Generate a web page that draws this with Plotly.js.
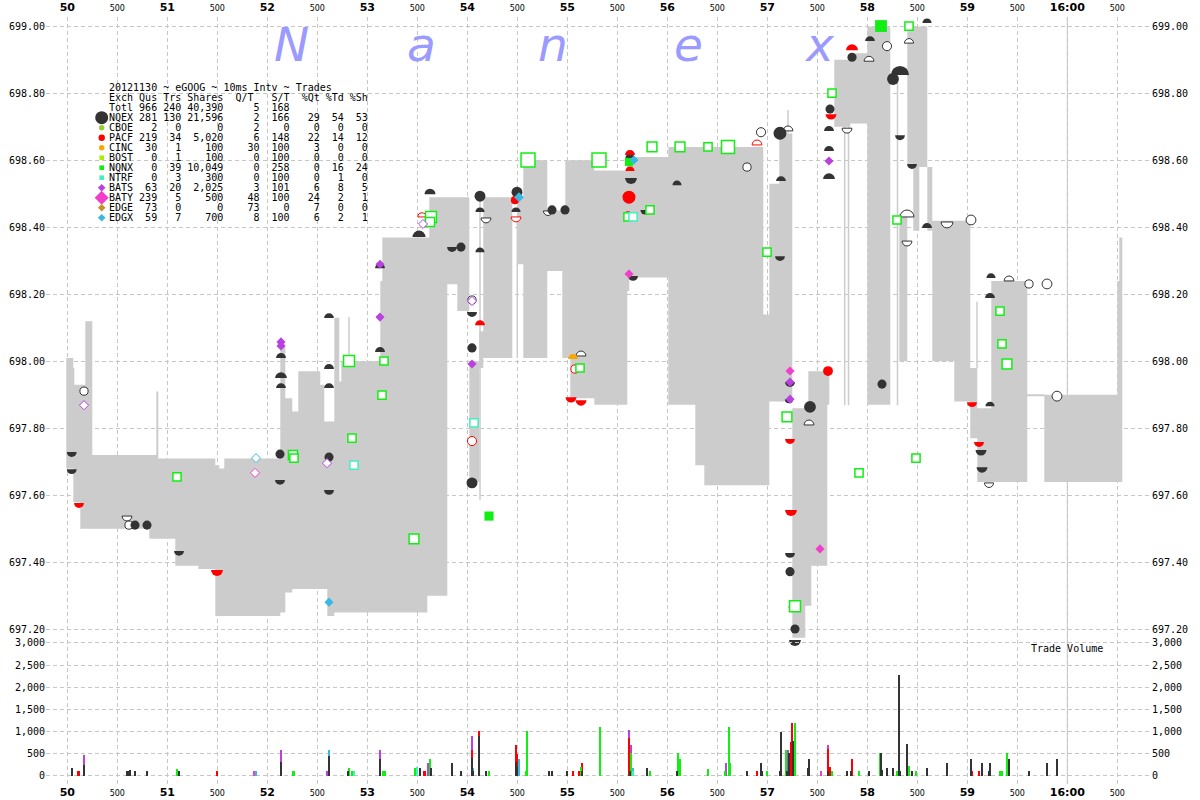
<!DOCTYPE html>
<html><head><meta charset="utf-8">
<script src="https://cdn.plot.ly/plotly-3.0.1.min.js"></script>
<style>html,body{margin:0;padding:0;background:#fff}#chart{width:1200px;height:800px}</style>
</head><body><div id="chart"></div><script>
// ---------------- DATA ----------------
// time in seconds after 15:59:00, prices in $
const timeTicks = [50,50.5,51,51.5,52,52.5,53,53.5,54,54.5,55,55.5,56,56.5,57,57.5,58,58.5,59,59.5,60,60.5];
const timeTickLabels = ['50','500','51','500','52','500','53','500','54','500','55','500','56','500','57','500','58','500','59','500','16:00','500'];
const closeTime = 60;
const priceTicks = [697.2,697.4,697.6,697.8,698.0,698.2,698.4,698.6,698.8,699.0];
const volTicks = [0,500,1000,1500,2000,2500,3000];

// NBBO band (step function)
const bandTime = [49.99,50.06,50.07,50.13,50.18,50.25,50.82,50.89,50.91,51.08,51.31,51.48,51.52,51.57,52.13,52.18,52.25,52.31,52.53,52.57,52.60,52.67,52.72,52.74,53.13,53.15,53.60,53.62,53.80,53.90,54.02,54.12,54.16,54.45,54.50,54.56,54.80,54.95,54.98,55.03,55.27,55.60,55.62,56.01,56.28,56.37,56.96,57.02,57.12,57.25,57.38,57.41,57.44,57.60,57.62,57.67,57.83,58.00,58.23,58.32,58.40,58.46,58.52,58.60,58.65,58.87,59.03,59.10,59.24,59.60,59.77,60.50,60.52,60.55];
const bandAsk = [698.01,697.98,697.93,697.93,698.12,697.72,697.72,697.91,697.71,697.71,697.71,697.69,697.68,697.71,698.05,697.89,697.85,697.97,697.93,697.82,697.82,698.13,697.94,698.00,698.24,698.37,698.37,698.49,698.49,698.49,698.00,698.09,698.49,698.40,698.49,698.60,698.45,698.45,698.60,698.60,698.57,698.63,698.61,698.64,698.64,698.64,698.14,698.53,698.68,697.86,697.86,697.97,697.97,697.97,698.50,698.90,698.92,699.00,698.60,698.44,699.00,699.00,699.00,698.58,698.42,698.42,697.98,697.86,698.24,697.902,697.90,698.24,698.37,698.37];
const bandBid = [697.68,697.58,697.58,697.50,697.50,697.50,697.47,697.47,697.47,697.39,697.38,697.24,697.24,697.24,697.25,697.31,697.32,697.32,697.32,697.32,697.24,697.25,697.25,697.25,697.25,697.25,697.30,697.30,698.23,698.15,697.64,697.98,698.01,698.40,698.29,698.01,698.27,698.01,698.01,697.89,697.87,698.21,698.25,697.87,697.69,697.63,697.63,697.88,697.88,697.175,697.27,697.27,697.39,697.87,698.50,698.70,698.71,697.87,698.60,698.00,698.59,698.39,698.58,698.39,698.00,697.88,697.77,697.64,697.64,697.896,697.64,697.64,697.64,697.64];

// thin trade-through lines (time, high, low)
const sweepT  = [52.817,54.127,54.500,55.607,57.207,57.774,57.812,58.302,59.097];
const sweepHi = [698.132,698.493,698.428,698.431,698.750,698.702,698.711,698.849,698.178];
const sweepLo = [697.899,697.586,698.010,698.213,698.681,697.869,697.869,697.869,697.980];

// NQEX quotes / trades (time, price, shares)
const nqexDomeT = [52.137,52.137,52.137,52.617,52.617,52.617,53.127,53.127,53.627,53.517,54.127,54.127,54.487,56.097,57.137,57.617,57.617,57.617,58.027,58.327,58.597,58.597,59.237,59.227,59.227];
const nqexDomeP = [698.010,697.950,697.920,698.129,697.977,697.920,698.278,698.028,698.499,698.371,698.446,698.326,698.446,698.526,698.538,698.688,698.628,698.544,698.956,698.855,699.010,698.398,698.249,698.189,697.866];
const nqexDomeS = [300,700,300,300,300,300,300,300,500,1000,200,200,200,200,300,300,300,700,300,3000,200,300,200,300,200];
const nqexBowlT = [50.044,50.044,51.117,52.127,52.617,53.847,54.047,55.657,55.637,55.777,57.127,57.227,57.217,57.227,57.277,58.327,58.447,59.137,59.147];
const nqexBowlP = [697.729,697.678,697.434,697.646,697.616,698.341,698.147,698.255,698.547,698.452,698.314,697.938,697.887,697.428,697.168,698.675,698.589,697.735,697.684];
const nqexBowlS = [300,300,300,300,300,300,300,300,700,200,300,300,100,300,700,300,300,500,500];
const openDomeT = [55.137,57.207,57.417,58.017,58.417,58.397,59.417];
const openDomeP = [698.016,698.688,697.810,698.896,698.950,698.431,698.240];
const openDomeS = [300,300,300,300,200,1300,300];
const openBowlT = [50.597,54.187,54.807,57.797,58.397,58.797,59.217];
const openBowlP = [697.538,698.428,698.449,698.696,698.359,698.416,697.637];
const openBowlS = [300,300,200,300,300,700,200];
const openCircT = [50.167,50.617,54.047,56.797,56.937,58.197,59.037,59.617,59.797,59.897];
const openCircP = [697.911,697.511,698.183,698.580,698.684,698.941,698.422,698.231,698.231,697.896];
const openCircS = [100,100,100,100,200,200,300,100,300,300];
const nqexTradeT = [50.677,50.797,52.127,52.617,53.937,54.127,54.047,54.047,54.497,54.847,54.977,55.627,57.127,57.427,57.227,57.277,57.627,57.847,58.147,58.257];
const nqexTradeP = [697.511,697.511,697.723,697.714,698.341,698.493,698.040,697.637,698.505,698.452,698.452,698.607,698.681,697.864,697.372,697.201,698.753,698.908,697.932,698.843];
const nqexTradeS = [200,200,200,200,200,500,200,500,500,200,200,200,1000,700,200,200,200,200,200,700];

// PACF
const pacfBowlT = [50.117,51.497,55.037,55.137,57.637,57.227,57.237,59.047,59.117];
const pacfBowlP = [697.577,697.377,697.893,697.884,698.738,697.768,697.556,697.878,697.759];
const pacfBowlS = [300,700,500,500,500,300,700,300,300];
const pacfDomeT = [54.127,55.607,55.627,55.627,57.847,57.257];
const pacfDomeP = [698.108,698.437,698.616,698.568,698.929,697.264];
const pacfDomeS = [300,50,300,200,700,200];
const pacfTradeT = [54.477,55.617,57.607];
const pacfTradeP = [698.481,698.490,697.971];
const pacfTradeS = [100,1000,300];
const pacfOpenDomeT = [53.547,56.897], pacfOpenDomeP = [698.431,698.646], pacfOpenDomeS = [100,300];
const pacfOpenBowlT = [54.487], pacfOpenBowlP = [698.431], pacfOpenBowlS = [300];
const pacfOpenCircT = [54.047,55.077], pacfOpenCircP = [697.762,697.977], pacfOpenCircS = [200,100];
// CINC
const cincDomeT = [55.057], cincDomeP = [698.007], cincDomeS = [300];
// NQNX
const nqnxOpenT = [51.097,52.257,52.267,52.817,52.847,53.167,53.147,53.467,53.637,53.627,54.607,55.127,55.317,55.607,55.827,55.847,56.127,56.407,56.607,56.997,57.197,57.277,57.647,57.917,58.297,58.417,58.487,59.327,59.347,59.397];
const nqnxOpenP = [697.655,697.720,697.711,698.001,697.771,698.001,697.899,697.470,698.431,698.416,698.601,697.980,698.601,698.431,698.452,698.640,698.640,698.640,698.640,698.326,697.834,697.269,698.801,697.667,698.422,699.001,697.711,698.150,698.052,697.992];
const nqnxOpenS = [100,200,100,500,100,100,100,300,500,200,1300,100,1300,100,100,300,300,100,1000,100,300,500,100,100,100,100,100,100,100,300];
const nqnxFillT = [54.217,58.137,55.617], nqnxFillP = [697.538,699.001,698.595], nqnxFillS = [200,700,100];
// NTRF
const ntrfT = [52.867,54.067,55.657], ntrfP = [697.690,697.816,698.431], ntrfS = [100,100,100];
// BATS / BATY / EDGX
const batsT = [52.137,52.137,53.127,53.127,54.047,57.617,57.227,57.227];
const batsP = [698.058,698.046,698.290,698.132,697.992,698.598,697.938,697.887];
const batsS = [200,200,200,200,200,200,200,200];
const batsOpenT = [50.167,52.597,53.557,54.047], batsOpenP = [697.869,697.696,698.410,698.180], batsOpenS = [200,200,200,200];
const batyT = [55.617,57.227,57.527], batyP = [698.261,697.971,697.440], batyS = [200,200,200];
const batyOpenT = [51.877], batyOpenP = [697.667], batyOpenS = [200];
const edgxT = [52.617,54.517,55.667], edgxP = [697.281,698.490,698.601], edgxS = [200,300,200];
const edgxOpenT = [51.887], edgxOpenP = [697.711], edgxOpenS = [200];

// Trade volume bars
const nqexVolT = [50.05,50.165,50.60,50.62,50.63,50.675,50.80,51.12,52.14,52.62,52.81,53.13,53.53,53.64,53.85,53.94,54.05,54.06,54.12,54.19,54.49,54.50,54.82,54.85,55.00,55.15,55.63,55.80,56.10,56.80,56.94,56.95,57.13,57.14,57.20,57.22,57.26,57.41,57.42,57.61,57.80,57.84,58.02,58.14,58.15,58.20,58.26,58.32,58.33,58.40,58.45,58.60,58.80,59.04,59.15,59.22,59.23,59.42,59.62,59.80,59.90];
const nqexVol = [180,230,100,100,120,100,100,100,300,450,100,380,180,180,290,100,400,100,900,100,300,200,100,100,100,100,100,180,100,100,280,100,100,990,100,500,780,180,380,100,100,100,100,500,130,180,180,2280,100,720,100,180,290,380,290,100,290,380,100,290,380];
const pacfVolT = [50.115,51.50,53.57,53.58,54.05,54.12,54.49,54.50,55.06,55.12,55.15,55.62,56.90,57.24,57.25,57.61,57.63,57.85,59.05,59.12];
const pacfVol = [100,100,100,100,580,1000,700,480,100,100,290,850,100,770,1200,600,200,380,100,100];
const nqnxVolT = [51.10,52.26,52.27,52.82,52.85,53.16,53.18,53.48,53.63,54.22,54.59,54.60,55.14,55.33,55.64,55.83,56.11,56.13,56.41,56.58,56.62,56.63,57.00,57.19,57.28,57.65,57.92,58.13,58.30,58.42,58.49,59.33,59.35,59.40];
const nqnxVol = [140,100,100,180,100,100,100,180,380,100,100,1000,200,1100,520,100,500,380,140,100,1100,280,100,580,1200,100,100,500,100,220,100,100,100,500];
const batsVolT = [50.165,52.14,52.60,53.13,53.61,54.05,54.49,55.62,55.64,56.59,57.21,57.61];
const batsVol = [460,580,100,580,290,900,500,1020,700,290,580,700];
const batyVolT = [51.87,57.54], batyVol = [100,100];
const edgxVolT = [51.89,52.62,54.06,54.52,55.66], edgxVol = [100,580,180,380,180];
const ntrfVolT = [52.87,53.50,55.655], ntrfVol = [100,200,100];

// Summary table
const titleLine = '20121130 ~ eGOOG ~ 10ms Intv ~ Trades';
const exch   = ['Totl','NQEX','CBOE','PACF','CINC','BOST','NQNX','NTRF','BATS','BATY','EDGE','EDGX'];
const qus    = [966,281,2,219,30,0,0,0,63,239,73,59];
const trs    = [240,130,0,34,1,1,39,3,20,5,0,7];
const shares = [40390,21596,0,5020,100,100,10049,300,2025,500,0,700];
const qt     = [5,2,2,6,30,0,0,0,3,48,73,8];
const st     = [168,166,0,148,100,100,258,100,101,100,0,100];
const pctQt  = [null,29,0,22,3,0,0,0,6,24,7,6];
const pctTd  = [null,54,0,14,0,0,16,1,8,2,0,2];
const pctSh  = [null,53,0,12,0,0,24,0,5,1,0,1];

// ---------------- STYLE / BUILD ----------------
const C = {nqex:'#333333', pacf:'#ff0000', cinc:'#f6a800', cboe:'#99cc33', bost:'#aaee00', nqnx:'#11ee11',
           ntrf:'#44eec0', bats:'#b841e0', baty:'#f23fcb', edge:'#c8902a', edgx:'#3ab7e3', band:'#cccccc', grid:'#c6c6c6'};
const sizeOf = s => 6 + 2.2*Math.sqrt(s/100);
const ML=46, MR=49, MT=17, MB=16, W=1200, H=800;
const PW=W-ML-MR, PH=H-MT-MB;
const priceBottomPx = 640;
const splitFrac = (H-MB-priceBottomPx)/PH;
const xr = [49.787, 60.837];
const pr = [697.168, 699.028];
const vr = [-191, 3067];
const px = x => (x-ML)/PW, py = y => (H-MB-y)/PH;

function mk(t,p,s,opt){
  const diamond = opt.symbol==='diamond';
  return {type:'scatter', mode:'markers', x:t, y:p, xaxis:'x', yaxis:'y', cliponaxis:false, hoverinfo:'skip',
    meta: opt.half || 'none',
    marker:{symbol:opt.symbol||'circle', opacity:1, size:s.map(v=>diamond? sizeOf(v)/1.3 : sizeOf(v)),
      color: opt.open ? '#ffffff' : opt.color,
      line:{color:opt.color, width: opt.open ? (opt.lw||1) : 0}}};
}
function bars(t,v,color){
  return {type:'bar', x:t, y:v, xaxis:'x', yaxis:'y2', width:0.02, opacity:1, marker:{color:color, opacity:1, line:{width:0}}, hoverinfo:'skip'};
}
const sweepX = [], sweepY = [];
sweepT.forEach((t,i)=>{ sweepX.push(t,t,null); sweepY.push(sweepHi[i], sweepLo[i], null); });

const data = [
  {type:'scatter', mode:'lines', x:bandTime, y:bandBid, line:{shape:'hv', width:0, color:C.band}, hoverinfo:'skip', xaxis:'x', yaxis:'y'},
  {type:'scatter', mode:'lines', x:bandTime, y:bandAsk, line:{shape:'hv', width:0, color:C.band}, fill:'tonexty', fillcolor:C.band, hoverinfo:'skip', xaxis:'x', yaxis:'y'},
  {type:'scatter', mode:'lines', x:sweepX, y:sweepY, line:{width:1.5, color:C.band}, connectgaps:false, hoverinfo:'skip', xaxis:'x', yaxis:'y'},
  mk(nqexDomeT,nqexDomeP,nqexDomeS,{color:C.nqex, half:'up'}),
  mk(nqexBowlT,nqexBowlP,nqexBowlS,{color:C.nqex, half:'down'}),
  mk(openDomeT,openDomeP,openDomeS,{color:C.nqex, open:true, half:'up'}),
  mk(openBowlT,openBowlP,openBowlS,{color:C.nqex, open:true, half:'down'}),
  mk(openCircT,openCircP,openCircS,{color:C.nqex, open:true}),
  mk(nqexTradeT,nqexTradeP,nqexTradeS,{color:C.nqex}),
  mk(pacfBowlT,pacfBowlP,pacfBowlS,{color:C.pacf, half:'down'}),
  mk(pacfDomeT,pacfDomeP,pacfDomeS,{color:C.pacf, half:'up'}),
  mk(pacfTradeT,pacfTradeP,pacfTradeS,{color:C.pacf}),
  mk(pacfOpenDomeT,pacfOpenDomeP,pacfOpenDomeS,{color:C.pacf, open:true, half:'up'}),
  mk(pacfOpenBowlT,pacfOpenBowlP,pacfOpenBowlS,{color:C.pacf, open:true, half:'down'}),
  mk(pacfOpenCircT,pacfOpenCircP,pacfOpenCircS,{color:C.pacf, open:true}),
  mk(cincDomeT,cincDomeP,cincDomeS,{color:C.cinc, half:'up'}),
  mk(nqnxOpenT,nqnxOpenP,nqnxOpenS,{color:C.nqnx, open:true, symbol:'square', lw:1.5}),
  mk(nqnxFillT,nqnxFillP,nqnxFillS,{color:C.nqnx, symbol:'square'}),
  mk(ntrfT,ntrfP,ntrfS,{color:C.ntrf, open:true, symbol:'square', lw:1.5}),
  mk(batsT,batsP,batsS,{color:C.bats, symbol:'diamond'}),
  mk(batsOpenT,batsOpenP,batsOpenS,{color:C.bats, open:true, symbol:'diamond'}),
  mk(batyT,batyP,batyS,{color:C.baty, symbol:'diamond'}),
  mk(batyOpenT,batyOpenP,batyOpenS,{color:C.baty, open:true, symbol:'diamond'}),
  mk(edgxT,edgxP,edgxS,{color:C.edgx, symbol:'diamond'}),
  mk(edgxOpenT,edgxOpenP,edgxOpenS,{color:C.edgx, open:true, symbol:'diamond'}),
  bars(batsVolT,batsVol,C.bats),
  bars(batyVolT,batyVol,C.baty),
  bars(pacfVolT,pacfVol,C.pacf),
  bars(nqnxVolT,nqnxVol,C.nqnx),
  bars(edgxVolT,edgxVol,C.edgx),
  bars(ntrfVolT,ntrfVol,C.ntrf),
  bars(nqexVolT,nqexVol,C.nqex),
  {type:'scatter', x:[55], y:[null], xaxis:'x2', yaxis:'y', hoverinfo:'skip'},
  {type:'scatter', x:[55], y:[null], xaxis:'x', yaxis:'y3', hoverinfo:'skip'},
  {type:'scatter', x:[55], y:[null], xaxis:'x', yaxis:'y4', hoverinfo:'skip'}
];

const timeText = timeTickLabels.map(s => s==='500' ? '<span style="font-size:8px">500</span>' : '<b>'+s+'</b>');
const priceText = priceTicks.map(v=>v.toFixed(2));
const volText = volTicks.map(v=>v.toLocaleString('en-US'));
const tickMono = {family:'DejaVu Sans Mono', size:10, color:'#000'};
const tickTime = {family:'DejaVu Sans', size:11, color:'#000'};
const grid = {showgrid:true, gridcolor:C.grid, gridwidth:1, griddash:'4px,3px', zeroline:false, showline:false, ticks:'', fixedrange:true};
const noGrid = {showgrid:false, zeroline:false, showline:false, ticks:'', fixedrange:true};

const nb = s => s.replace(/ /g,'\u00A0');
const padL = (v,n) => { let s = v==null ? '' : String(v); while(s.length<n) s=' '+s; return s; };
const tableLines = [titleLine, 'Exch Qus Trs Shares  Q/T   S/T  %Qt %Td %Sh'];
exch.forEach((e,i)=>{
  let s = e+' '+padL(qus[i],3)+' '+padL(trs[i],3)+' '+padL(shares[i].toLocaleString('en-US'),6)+padL(qt[i],6)+padL(st[i],5);
  if (pctQt[i]!=null) s += padL(pctQt[i],5)+padL(pctTd[i],4)+padL(pctSh[i],4);
  tableLines.push(s);
});
const annotations = [];
tableLines.forEach((s,i)=>{
  annotations.push({xref:'paper', yref:'paper', x:px(108), y:py(87.7+10*i), xanchor:'left', yanchor:'middle',
    text:nb(s), showarrow:false, font:{family:'DejaVu Sans Mono', size:10, color:'#000'}, borderpad:0});
});
annotations.push({xref:'paper', yref:'paper', x:px(1030), y:py(648), xanchor:'left', yanchor:'middle',
  text:nb('Trade Volume'), showarrow:false, font:{family:'DejaVu Sans Mono', size:10, color:'#000'}, borderpad:0});
const mark = ['N','a','n','e','x'], markX = [291,421,553,688,819];
mark.forEach((m,i)=>annotations.push({xref:'paper', yref:'paper', x:px(markX[i]), y:py(16), xanchor:'center', yanchor:'top',
  text:m, showarrow:false, borderpad:0, font:{family:'DejaVu Sans', size:47, color:'#9a9aff', style:'italic'}}));

// legend glyphs (pixel-sized shapes anchored in paper space)
const legendKeys = [
  {row:3, kind:'circle', r:6.5, c:C.nqex}, {row:4, kind:'circle', r:2.7, c:C.cboe}, {row:5, kind:'circle', r:3.2, c:C.pacf},
  {row:6, kind:'circle', r:2.7, c:C.cinc}, {row:7, kind:'rect', r:2.3, c:C.bost}, {row:8, kind:'rect', r:2.3, c:C.nqnx},
  {row:9, kind:'rect', r:2.3, c:C.ntrf}, {row:10, kind:'dia', r:3.8, c:C.bats}, {row:11, kind:'dia', r:7, c:C.baty},
  {row:12, kind:'dia', r:3.8, c:C.edge}, {row:13, kind:'dia', r:3.8, c:C.edgx}];
const shapes = [{type:'line', xref:'x', yref:'paper', x0:closeTime, x1:closeTime, y0:0, y1:1, line:{color:C.grid, width:1}, layer:'below'}];
legendKeys.forEach(k=>{
  const base = {xref:'paper', yref:'paper', xsizemode:'pixel', ysizemode:'pixel', xanchor:px(101.7), yanchor:py(87.7+10*k.row),
    fillcolor:k.c, line:{width:0}, layer:'above'};
  if (k.kind==='dia') shapes.push(Object.assign(base,{type:'path', path:`M ${-k.r},0 L 0,${k.r} L ${k.r},0 L 0,${-k.r} Z`}));
  else shapes.push(Object.assign(base,{type:k.kind, x0:-k.r, x1:k.r, y0:-k.r, y1:k.r}));
});

const layout = {
  width:W, height:H, margin:{l:ML, r:MR, t:MT, b:MB, pad:0}, paper_bgcolor:'#fff', plot_bgcolor:'#fff',
  showlegend:false, hovermode:false, barmode:'overlay', bargap:0,
  font:{family:'DejaVu Sans Mono', size:10, color:'#000'},
  xaxis:Object.assign({}, grid, {domain:[0,1], range:xr, anchor:'y2', side:'bottom', tickmode:'array', tickvals:timeTicks, ticktext:timeText, tickfont:tickTime}),
  xaxis2:Object.assign({}, noGrid, {overlaying:'x', anchor:'y', side:'top', range:xr, tickmode:'array', tickvals:timeTicks, ticktext:timeText, tickfont:tickTime, ticklabelstandoff:3}),
  yaxis:Object.assign({}, grid, {domain:[splitFrac,1], range:pr, anchor:'x', side:'left', tickmode:'array', tickvals:priceTicks, ticktext:priceText, tickfont:tickMono}),
  yaxis3:Object.assign({}, noGrid, {overlaying:'y', anchor:'x', side:'right', range:pr, tickmode:'array', tickvals:priceTicks, ticktext:priceText, tickfont:tickMono}),
  yaxis2:Object.assign({}, grid, {domain:[0,splitFrac], range:vr, anchor:'x', side:'left', tickmode:'array', tickvals:volTicks, ticktext:volText, tickfont:tickMono}),
  yaxis4:Object.assign({}, noGrid, {overlaying:'y2', anchor:'x', side:'right', range:vr, tickmode:'array', tickvals:volTicks, ticktext:volText, tickfont:tickMono}),
  annotations:annotations, shapes:shapes
};

// turn circle markers of half-disk traces into semicircles (upper = dome, lower = bowl)
function halfify(gd){
  gd.querySelectorAll('.scatterlayer .trace').forEach(g=>{
    const cd = g.__data__; const tr = cd && cd[0] && cd[0].trace;
    if (!tr || (tr.meta!=='up' && tr.meta!=='down')) return;
    g.querySelectorAll('path.point').forEach(pt=>{
      const d = pt.getAttribute('d')||''; const r = parseFloat(d.slice(1));
      if (!(r>0)) return;
      pt.setAttribute('d', tr.meta==='up' ? `M${r},0A${r},${r} 0 0,0 -${r},0Z` : `M${r},0A${r},${r} 0 0,1 -${r},0Z`);
    });
  });
}
const gd = document.getElementById('chart');
Plotly.newPlot(gd, data, layout, {displayModeBar:false, responsive:false}).then(()=>{
  halfify(gd);
  gd.on('plotly_afterplot', ()=>halfify(gd));
});
</script></body></html>
